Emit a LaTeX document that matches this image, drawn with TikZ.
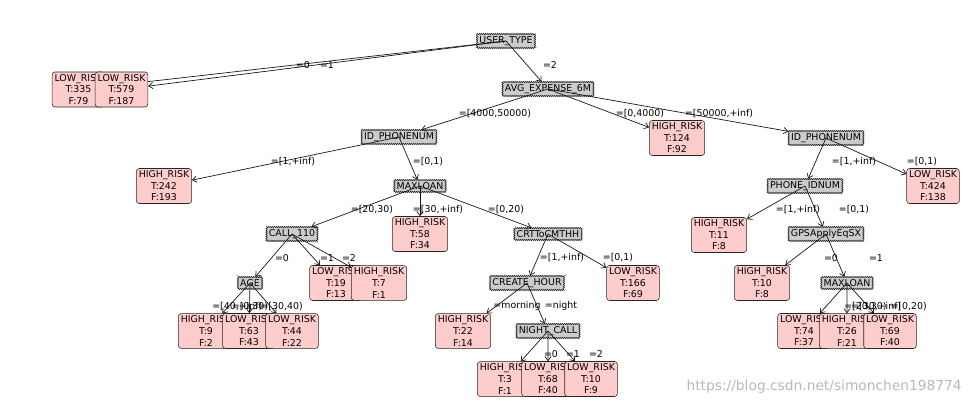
\documentclass[tikz,border=0pt]{standalone}
\usepackage{fontspec}
\setmainfont{DejaVu Sans}
\usetikzlibrary{positioning,arrows.meta,decorations.pathmorphing}
\tikzset{>={Straight Barb[length=3pt,width=4.5pt]}}
\tikzset{
  dnode/.style={draw=black!85, fill=black!20, decorate, decoration={zigzag, segment length=1.4pt, amplitude=0.45pt}, inner sep=1.7pt, font=\fontsize{6.7pt}{8pt}\selectfont},
  leaf/.style={draw=black!85, fill=red!20, rounded corners=2pt, align=center, inner sep=1.7pt, font=\fontsize{6.7pt}{8.2pt}\selectfont},
  elab/.style={inner sep=0pt, font=\fontsize{6.7pt}{8pt}\selectfont},
  edge/.style={->, line width=0.5pt, black!90}
}

\begin{document}
\begin{tikzpicture}[x=0.025cm, y=-0.025cm]
      \useasboundingbox (0,0) rectangle (972,406);
      % root
      \node[dnode] (n0) at (506,41) {USER\_TYPE};
      \node[leaf] (n1) at (78.5,89.5) {LOW\_RISK\\T:335\\F:79};
      \draw[edge] (n0.center) -- (n1);
      \node[elab] at (303,65) {=0};
      \node[leaf, right of=n1, node distance=1.075cm] (n2) {LOW\_RISK\\T:579\\F:187};
      \draw[edge] (n0.center) -- (n2);
      \node[elab] at (327,65) {=1};
      \node[dnode] (n3) at (548,89) {AVG\_EXPENSE\_6M};
      \draw[edge] (n0.center) -- (n3);
      \node[elab] at (550,65) {=2};
      % left branch of AVG_EXPENSE_6M
      \node[dnode] (n4) at (399,137) {ID\_PHONENUM};
      \draw[edge] (n3.center) -- (n4);
      \node[elab] at (495,114) {=[4000,50000)};
      \node[leaf] (n5) at (164,186) {HIGH\_RISK\\T:242\\F:193};
      \draw[edge] (n4.center) -- (n5);
      \node[elab] at (293,162) {=[1,+inf)};
      \node[dnode] (n6) at (420,186) {MAXLOAN};
      \draw[edge] (n4.center) -- (n6);
      \node[elab] at (428,162) {=[0,1)};
      \node[dnode] (n7) at (292,234) {CALL\_110};
      \draw[edge] (n6.center) -- (n7);
      \node[elab] at (372,210) {=[20,30)};
      \node[dnode] (n8) at (250,283) {AGE};
      \draw[edge] (n7.center) -- (n8);
      \node[elab] at (282,258) {=0};
      \node[leaf] (n9) at (206,331) {HIGH\_RISK\\T:9\\F:2};
      \draw[edge] (n8.center) -- (n9);
      \node[leaf, right of=n9, node distance=1.075cm] (n10) {LOW\_RISK\\T:63\\F:43};
      \draw[edge] (n8.center) -- (n10);
      \node[leaf, right of=n10, node distance=1.075cm] (n11) {LOW\_RISK\\T:44\\F:22};
      \draw[edge] (n8.center) -- (n11);
      \node[elab, anchor=west] at (212,307) {=[40,+inf)};
      \node[elab] at (250,307) {=[0,30)};
      \node[elab, anchor=east] at (303,307) {=[30,40)};
      \node[leaf] (n12) at (336,283) {LOW\_RISK\\T:19\\F:13};
      \draw[edge] (n7.center) -- (n12);
      \node[elab] at (327,258) {=1};
      \node[leaf, right of=n12, node distance=1.075cm] (n13) {HIGH\_RISK\\T:7\\F:1};
      \draw[edge] (n7.center) -- (n13);
      \node[elab] at (349,258) {=2};
      \node[leaf] (n14) at (420,234) {HIGH\_RISK\\T:58\\F:34};
      \draw[edge] (n6.center) -- (n14);
      \node[elab] at (438,210) {=[30,+inf)};
      \node[dnode] (n15) at (548,234) {CRTToCMTHH};
      \draw[edge] (n6.center) -- (n15);
      \node[elab] at (506,210) {=[0,20)};
      \node[dnode] (n16) at (527,283) {CREATE\_HOUR};
      \draw[edge] (n15.center) -- (n16);
      \node[elab] at (562,258) {=[1,+inf)};
      \node[leaf] (n17) at (463,331) {HIGH\_RISK\\T:22\\F:14};
      \draw[edge] (n16.center) -- (n17);
      \node[elab] at (517,306) {=morning};
      \node[dnode] (n18) at (548,331) {NIGHT\_CALL};
      \draw[edge] (n16.center) -- (n18);
      \node[elab] at (561,306) {=night};
      \node[leaf] (n19) at (505,379) {HIGH\_RISK\\T:3\\F:1};
      \draw[edge] (n18.center) -- (n19);
      \node[elab] at (551,354) {=0};
      \node[leaf, right of=n19, node distance=1.075cm] (n20) {LOW\_RISK\\T:68\\F:40};
      \draw[edge] (n18.center) -- (n20);
      \node[elab] at (573,354) {=1};
      \node[leaf, right of=n20, node distance=1.075cm] (n21) {LOW\_RISK\\T:10\\F:9};
      \draw[edge] (n18.center) -- (n21);
      \node[elab] at (596,354) {=2};
      \node[leaf] (n22) at (633,283) {LOW\_RISK\\T:166\\F:69};
      \draw[edge] (n15.center) -- (n22);
      \node[elab] at (618,258) {=[0,1)};
      % middle and right branches
      \node[leaf] (n23) at (677,138) {HIGH\_RISK\\T:124\\F:92};
      \draw[edge] (n3.center) -- (n23);
      \node[elab] at (640,114) {=[0,4000)};
      \node[dnode] (n24) at (826,138) {ID\_PHONENUM};
      \draw[edge] (n3.center) -- (n24);
      \node[elab] at (719,114) {=[50000,+inf)};
      \node[dnode] (n25) at (805,186) {PHONE\_IDNUM};
      \draw[edge] (n24.center) -- (n25);
      \node[elab] at (854,162) {=[1,+inf)};
      \node[leaf] (n26) at (719,235) {HIGH\_RISK\\T:11\\F:8};
      \draw[edge] (n25.center) -- (n26);
      \node[elab] at (798,210) {=[1,+inf)};
      \node[dnode] (n27) at (826,234) {GPSApplyEqSX};
      \draw[edge] (n25.center) -- (n27);
      \node[elab] at (854,210) {=[0,1)};
      \node[leaf] (n28) at (762,283) {HIGH\_RISK\\T:10\\F:8};
      \draw[edge] (n27.center) -- (n28);
      \node[elab] at (831,258) {=0};
      \node[dnode] (n29) at (847,283) {MAXLOAN};
      \draw[edge] (n27.center) -- (n29);
      \node[elab] at (876,258) {=1};
      \node[leaf] (n30) at (804,331) {LOW\_RISK\\T:74\\F:37};
      \draw[edge] (n29.center) -- (n30);
      \node[leaf, right of=n30, node distance=1.075cm] (n31) {HIGH\_RISK\\T:26\\F:21};
      \draw[edge] (n29.center) -- (n31);
      \node[leaf, right of=n31, node distance=1.075cm] (n32) {LOW\_RISK\\T:69\\F:40};
      \draw[edge] (n29.center) -- (n32);
      \node[elab, anchor=west] at (844,307) {=[20,30)};
      \node[elab, anchor=west] at (851,307) {=[30,+inf)};
      \node[elab, anchor=east] at (927,307) {=[0,20)};
      \node[leaf] (n33) at (933,186) {LOW\_RISK\\T:424\\F:138};
      \draw[edge] (n24.center) -- (n33);
      \node[elab] at (922,162) {=[0,1)};
      % watermark
      \node[anchor=east, inner sep=0pt, text=black!28, font=\fontsize{9.8pt}{11pt}\selectfont] (wm) at (962,387) {https://blog.csdn.net/simonchen198774};
    \end{tikzpicture}
\end{document}
